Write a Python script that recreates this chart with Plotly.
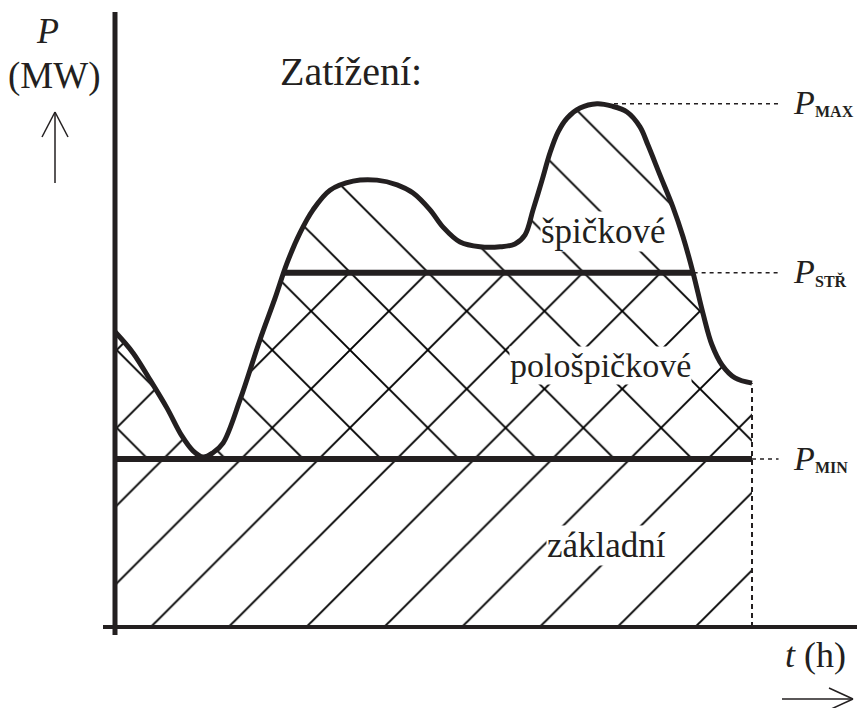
import plotly.graph_objects as go

# ---------------- data ----------------
t_h = [0.00, 0.68, 1.32, 1.96, 2.52, 2.94, 3.32, 3.69, 4.07, 4.71, 5.46, 6.03,
       6.48, 6.97, 7.46, 8.10, 8.97, 9.87, 10.63, 11.23, 11.87, 12.36, 13.00,
       13.75, 14.51, 15.07, 15.45, 15.75, 16.09, 16.39, 16.69, 17.03, 17.52,
       18.16, 18.73, 19.29, 19.78, 20.08, 20.53, 21.02, 21.40, 21.78, 22.15,
       22.49, 22.87, 23.36, 24.00]
load_mw = [61.5, 57.1, 51.5, 45.6, 39.8, 36.7, 35.4, 36.3, 38.3, 47.3, 59.8, 68.5,
           75.8, 82.1, 86.9, 91.0, 92.9, 93.1, 92.1, 90.4, 86.9, 83.3, 80.2,
           79.2, 79.2, 79.8, 81.7, 86.9, 93.1, 98.8, 103.1, 106.0, 108.1,
           109.0, 108.5, 107.3, 104.2, 100.4, 94.2, 87.5, 81.3, 73.8, 65.4,
           58.8, 54.6, 51.9, 50.8]

P_MIN = 35.0
P_STR = 73.8
P_MAX = 109.0
STR_SPAN = [6.4, 21.8]      # where the load crosses P_str
PEAK_T = 18.8               # time of the maximum
GUIDE_END_T = 25.0          # end of dashed guide lines

zone_labels = ["špičkové", "pološpičkové", "základní"]
level_subs = ["MAX", "STŘ", "MIN"]

# ---------------- styling ----------------
INK = "#231f20"
FONT = "Liberation Serif"
W, H = 857, 708
X0_PX, X_PX_PER_H = 115, 26.542
Y0_PX, Y_PX_PER_MW = 627, 4.8
HATCH = 55
SOL = 0.035

x_range = [(0 - X0_PX) / X_PX_PER_H, (W - X0_PX) / X_PX_PER_H]
y_range = [(Y0_PX - H) / Y_PX_PER_MW, Y0_PX / Y_PX_PER_MW]

def px(xp):
    return xp / W

def py(yp):
    return 1 - yp / H

def pattern(shape):
    return dict(shape=shape, size=HATCH, solidity=SOL, fgcolor="#000000",
                fgopacity=1, bgcolor="rgba(0,0,0,0)", fillmode="replace")

T_END = t_h[-1]
fig = go.Figure()

# "/" hatch: everything below min(load, P_str)
fig.add_trace(go.Scatter(
    x=t_h, y=load_mw, mode="lines", line=dict(width=0, shape="spline"),
    fill="tozeroy", fillcolor="#000000", fillpattern=pattern("/"),
    hoverinfo="skip"))
# white mask above P_str
top = max(load_mw) + 2
fig.add_trace(go.Scatter(
    x=[t_h[0], T_END, T_END, t_h[0], t_h[0]], y=[P_STR, P_STR, top, top, P_STR],
    mode="lines", line=dict(width=0), fill="toself", fillcolor="white",
    hoverinfo="skip"))
# "\" hatch: between P_min and load
fig.add_trace(go.Scatter(x=[t_h[0], T_END], y=[P_MIN, P_MIN], mode="lines",
                         line=dict(width=0), hoverinfo="skip"))
fig.add_trace(go.Scatter(
    x=t_h, y=load_mw, mode="lines", line=dict(width=0, shape="spline"),
    fill="tonexty", fillcolor="#000000", fillpattern=pattern("\\"),
    hoverinfo="skip"))

# level lines
fig.add_trace(go.Scatter(x=[t_h[0], T_END], y=[P_MIN, P_MIN], mode="lines",
                         line=dict(color=INK, width=6), hoverinfo="skip"))
fig.add_trace(go.Scatter(x=STR_SPAN, y=[P_STR, P_STR], mode="lines",
                         line=dict(color=INK, width=6), hoverinfo="skip"))
# load curve
fig.add_trace(go.Scatter(x=t_h, y=load_mw, mode="lines",
                         line=dict(color=INK, width=5, shape="spline"),
                         hoverinfo="skip"))
# dashed guides
for x0, yv in [(PEAK_T, P_MAX), (STR_SPAN[1], P_STR), (T_END, P_MIN)]:
    fig.add_trace(go.Scatter(x=[x0, GUIDE_END_T], y=[yv, yv], mode="lines",
                             line=dict(color=INK, width=1.5, dash="4px,4px"),
                             hoverinfo="skip"))
fig.add_trace(go.Scatter(x=[T_END, T_END], y=[0, load_mw[-1]], mode="lines",
                         line=dict(color=INK, width=2, dash="5px,4px"),
                         hoverinfo="skip"))

# axes drawn as shapes
shapes = [
    dict(type="line", xref="paper", yref="paper", x0=px(115), x1=px(115),
         y0=py(12), y1=py(635), line=dict(color=INK, width=5), layer="above"),
    dict(type="line", xref="paper", yref="y", x0=px(103), x1=px(857),
         y0=0, y1=0, line=dict(color=INK, width=4), layer="above"),
    # up arrow
    dict(type="line", xref="paper", yref="paper", x0=px(55), x1=px(55),
         y0=py(183), y1=py(112), line=dict(color=INK, width=1.5)),
    dict(type="line", xref="paper", yref="paper", x0=px(42), x1=px(55),
         y0=py(137), y1=py(112), line=dict(color=INK, width=1.5)),
    dict(type="line", xref="paper", yref="paper", x0=px(68), x1=px(55),
         y0=py(137), y1=py(112), line=dict(color=INK, width=1.5)),
    # right arrow
    dict(type="line", xref="paper", yref="paper", x0=px(782), x1=px(853),
         y0=py(699), y1=py(699), line=dict(color=INK, width=1.5)),
    dict(type="line", xref="paper", yref="paper", x0=px(829), x1=px(853),
         y0=py(688), y1=py(699), line=dict(color=INK, width=1.5)),
    dict(type="line", xref="paper", yref="paper", x0=px(829), x1=px(853),
         y0=py(710), y1=py(699), line=dict(color=INK, width=1.5)),
]

ann = []
def text(x, y, s, size, xanchor="center", yanchor="middle", bg=None,
         xref="paper", yref="paper", yshift=0):
    d = dict(x=x, y=y, xref=xref, yref=yref, text=s, showarrow=False,
             xanchor=xanchor, yanchor=yanchor, yshift=yshift,
             font=dict(family=FONT, size=size, color=INK), borderpad=0)
    if bg:
        d["bgcolor"] = bg
    ann.append(d)

text(px(47), py(31), "<i>P</i>", 36)
text(px(54), py(76), "(MW)", 37)
text(px(351), py(72), "Zatížení:", 40)
text(px(603), py(232), zone_labels[0], 35, bg="white")
text(px(600), py(366), zone_labels[1], 34, bg="white")
text(px(606), py(545), zone_labels[2], 35, bg="white")
text(px(815), py(655), "<i>t</i> (h)", 36)
for yv, sub in zip([P_MAX, P_STR, P_MIN], level_subs):
    text(px(792), yv, "<i>P</i>", 34, xanchor="left", yref="y", yshift=1)
    text(px(814), yv, "<b>" + sub + "</b>", 16, xanchor="left", yref="y",
         yshift=-8)

fig.update_layout(
    width=W, height=H, margin=dict(l=0, r=0, t=0, b=0),
    paper_bgcolor="white", plot_bgcolor="white", showlegend=False,
    font=dict(family=FONT, color=INK),
    xaxis=dict(range=x_range, visible=False, fixedrange=True),
    yaxis=dict(range=y_range, visible=False, fixedrange=True),
    shapes=shapes, annotations=ann,
)
fig.write_html("out.html", config={"displayModeBar": False},
               post_script="document.body.style.margin='0';"
                           "document.body.style.padding='0';")
